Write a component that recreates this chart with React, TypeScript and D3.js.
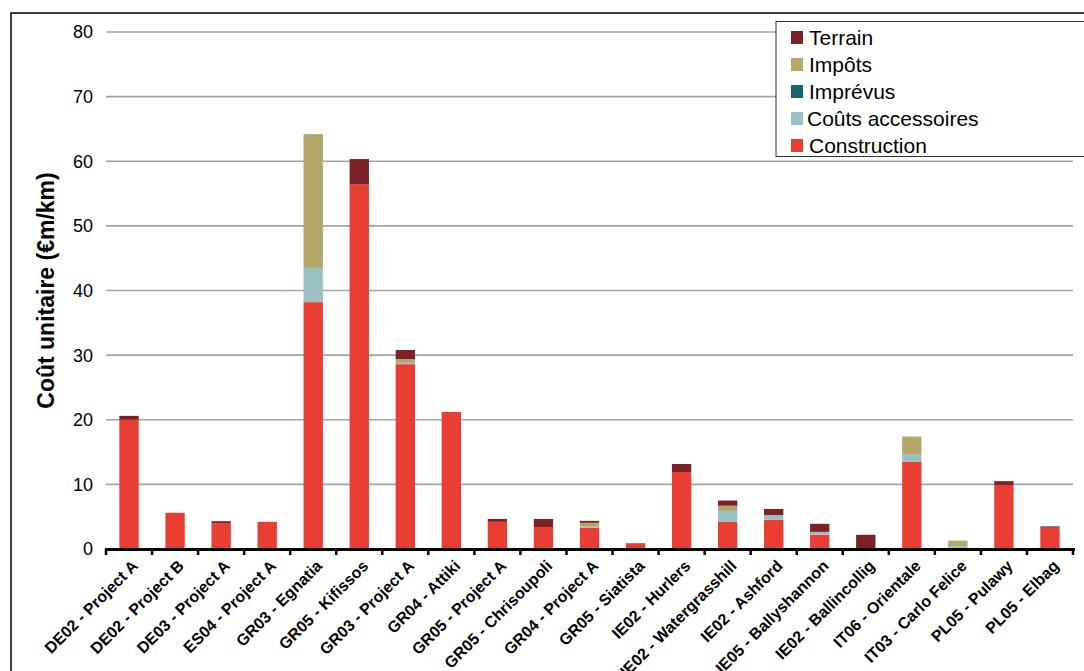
import { useRef, useEffect } from "react";
import * as d3 from "d3";

const projects = [
  "DE02 - Project A",
  "DE02 - Project B",
  "DE03 - Project A",
  "ES04 - Project A",
  "GR03 - Egnatia",
  "GR05 - Kifissos",
  "GR03 - Project A",
  "GR04 - Attiki",
  "GR05 - Project A",
  "GR05 - Chrisoupoli",
  "GR04 - Project A",
  "GR05 - Siatista",
  "IE02 - Hurlers",
  "IE02 - Watergrasshill",
  "IE02 - Ashford",
  "IE05 - Ballyshannon",
  "IE02 - Ballincollig",
  "IT06 - Orientale",
  "IT03 - Carlo Felice",
  "PL05 - Pulawy",
  "PL05 - Elbag",
];

const construction = [20.0, 5.6, 4.0, 4.2, 38.2, 56.4, 28.6, 21.2, 4.2, 3.4, 3.3, 0.9, 11.9, 4.2, 4.5, 2.2, 0, 13.5, 0, 9.9, 3.3];
const coutsAccessoires = [0, 0, 0, 0, 5.3, 0, 0.2, 0, 0, 0, 0.15, 0, 0, 1.7, 0.75, 0.45, 0, 1.1, 0.4, 0, 0];
const imprevus = [0, 0, 0, 0, 0, 0, 0, 0, 0, 0, 0, 0, 0, 0, 0, 0, 0, 0, 0, 0, 0];
const impots = [0, 0, 0, 0, 20.7, 0, 0.6, 0, 0, 0, 0.6, 0, 0, 0.8, 0, 0, 0, 2.8, 0.9, 0, 0];
const terrain = [0.6, 0, 0.3, 0, 0, 3.95, 1.4, 0, 0.45, 1.25, 0.3, 0, 1.25, 0.8, 0.95, 1.25, 2.2, 0, 0, 0.6, 0.2];

const yTicks = [0, 10, 20, 30, 40, 50, 60, 70, 80];

// stacking order bottom -> top
const seriesKeys = ["Construction", "Coûts accessoires", "Imprévus", "Impôts", "Terrain"];
const seriesValues = [construction, coutsAccessoires, imprevus, impots, terrain];
const colors: Record<string, string> = {
  Terrain: "#7b2228",
  "Impôts": "#b3a66b",
  "Imprévus": "#17656e",
  "Coûts accessoires": "#9bc0c4",
  Construction: "#e83e33",
};
const legendOrder = ["Terrain", "Impôts", "Imprévus", "Coûts accessoires", "Construction"];

const W = 1084;
const H = 671;
const FONT = "'Liberation Sans', Arial, sans-serif";

export default function App() {
  const svgRef = useRef<SVGSVGElement>(null);

  useEffect(() => {
    if (!svgRef.current) return;
    const svg = d3.select(svgRef.current);
    svg.selectAll("*").remove();

    const left = 106;
    const right = 1073;
    const top = 32;
    const bottom = 549;

    const rows = projects.map((p, i) => {
      const row: Record<string, number | string> = { project: p };
      seriesKeys.forEach((k, j) => (row[k] = seriesValues[j][i]));
      return row;
    });

    const x = d3.scaleBand<string>().domain(projects).range([left, right]).paddingInner(0.58).paddingOuter(0.29);
    const y = d3.scaleLinear().domain([0, 80]).range([bottom, top]);

    // outer frame
    svg
      .append("rect")
      .attr("x", 11)
      .attr("y", 13)
      .attr("width", W)
      .attr("height", H)
      .attr("fill", "white")
      .attr("stroke", "#000")
      .attr("stroke-width", 1.5);

    // gridlines
    svg
      .append("g")
      .selectAll("line")
      .data(yTicks.filter((t) => t > 0))
      .join("line")
      .attr("x1", left)
      .attr("x2", right)
      .attr("y1", (d) => y(d))
      .attr("y2", (d) => y(d))
      .attr("stroke", "#a3a3a3")
      .attr("stroke-width", 1.6);

    // y tick labels
    svg
      .append("g")
      .selectAll("text")
      .data(yTicks)
      .join("text")
      .attr("x", 93)
      .attr("y", (d) => y(d))
      .attr("dy", "0.36em")
      .attr("text-anchor", "end")
      .attr("font-family", FONT)
      .attr("font-size", "18px")
      .attr("fill", "#000")
      .text((d) => d);

    // stacked bars
    const stack = d3.stack<Record<string, number | string>>().keys(seriesKeys).value((d, k) => d[k] as number);
    const layers = stack(rows);
    svg
      .append("g")
      .selectAll("g")
      .data(layers)
      .join("g")
      .attr("fill", (d) => colors[d.key])
      .selectAll("rect")
      .data((d) => d.filter((s) => s[1] - s[0] > 0))
      .join("rect")
      .attr("x", (d) => x(d.data.project as string)!)
      .attr("width", x.bandwidth())
      .attr("y", (d) => y(d[1]))
      .attr("height", (d) => y(d[0]) - y(d[1]));

    // x axis line + ticks at category boundaries
    const boundaries = d3.range(projects.length + 1).map((i) => left + (i * (right - left)) / projects.length);
    svg
      .append("line")
      .attr("x1", left - 1)
      .attr("x2", right + 2)
      .attr("y1", bottom + 0.5)
      .attr("y2", bottom + 0.5)
      .attr("stroke", "#000")
      .attr("stroke-width", 3);
    svg
      .append("g")
      .selectAll("line")
      .data(boundaries)
      .join("line")
      .attr("x1", (d) => d)
      .attr("x2", (d) => d)
      .attr("y1", bottom)
      .attr("y2", bottom + 6)
      .attr("stroke", "#000")
      .attr("stroke-width", 2.5);

    // x labels
    svg
      .append("g")
      .selectAll("text")
      .data(projects)
      .join("text")
      .attr("transform", (d) => `translate(${x(d)! + x.bandwidth() / 2 + 2},${bottom + 10}) rotate(-45)`)
      .attr("text-anchor", "end")
      .attr("dy", "0.7em")
      .attr("font-family", FONT)
      .attr("font-size", "16px")
      .attr("font-weight", "bold")
      .attr("fill", "#000")
      .text((d) => d);

    // y title
    svg
      .append("text")
      .attr("transform", `translate(54,${(top + bottom) / 2}) rotate(-90)`)
      .attr("text-anchor", "middle")
      .attr("font-family", FONT)
      .attr("font-size", "23px")
      .attr("font-weight", "bold")
      .attr("fill", "#000")
      .text("Coût unitaire (€m/km)");

    // legend
    const lg = svg.append("g");
    lg.append("rect")
      .attr("x", 776)
      .attr("y", 21.5)
      .attr("width", 320)
      .attr("height", 135)
      .attr("fill", "white")
      .attr("stroke", "#333")
      .attr("stroke-width", 1);
    legendOrder.forEach((k, i) => {
      const cy = 37 + i * 27;
      lg.append("rect").attr("x", 791).attr("y", cy - 6).attr("width", 12).attr("height", 13).attr("fill", colors[k]);
      lg.append("text")
        .attr("x", k === "Coûts accessoires" ? 807 : 809)
        .attr("y", cy)
        .attr("dy", "0.36em")
        .attr("font-family", FONT)
        .attr("font-size", "21px")
        .attr("fill", "#000")
        .text(k);
    });
  }, []);

  return (
    <div style={{ position: "absolute", left: 0, top: 0, width: W, height: H, overflow: "hidden", background: "white" }}>
      <svg ref={svgRef} width={W} height={H} />
    </div>
  );
}
